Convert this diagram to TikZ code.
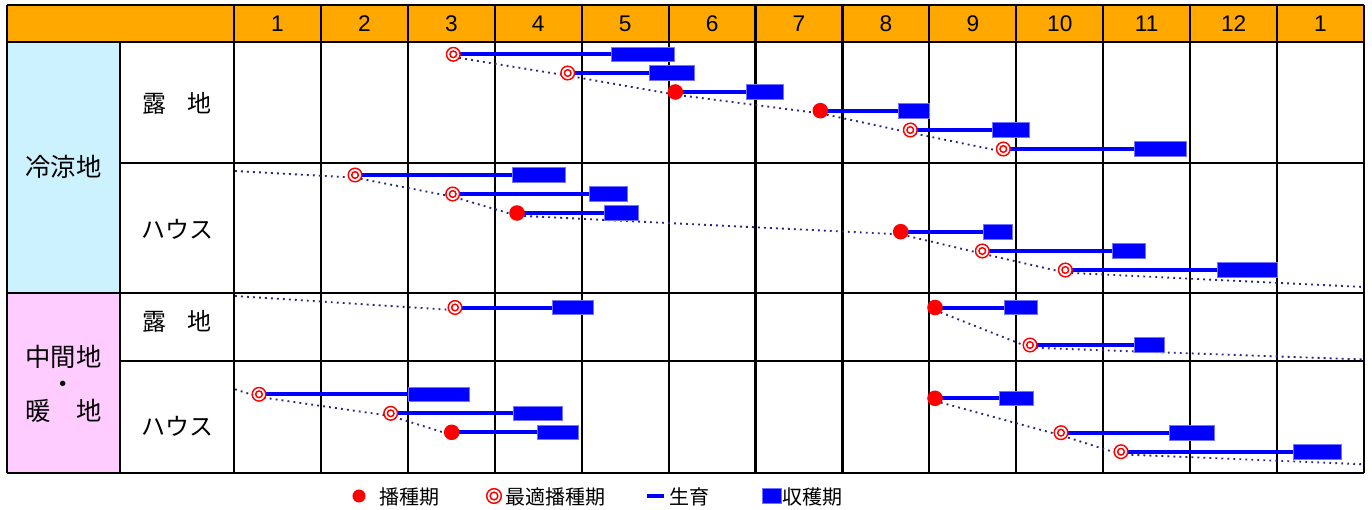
\documentclass[tikz,border=0pt]{standalone}
\usepackage{fontspec}
\setmainfont{Liberation Sans}
\newfontfamily\jp{Noto Sans CJK JP}
\definecolor{hdr}{RGB}{255,168,0}
\definecolor{cold}{RGB}{204,242,255}
\definecolor{warm}{RGB}{255,204,255}
\definecolor{navyc}{RGB}{40,40,130}
\pgfdeclarelayer{gridl}
\pgfdeclarelayer{dotl}
\pgfdeclarelayer{growl}
\pgfsetlayers{gridl,dotl,growl,main}
\newcommand\entry[6]{%
  \node[#1] (#2) at (#3,#4) {};
  \node[harvest, minimum width={(#6-#5)*0.75pt}] (#2h) at ({(#5+#6)/2},#4) {};
  \begin{pgfonlayer}{growl}\draw[growline] (#2.center) -- (#2h.west);\end{pgfonlayer}}
\begin{document}
\begin{tikzpicture}[x=0.75pt,y=-0.75pt,
  sow/.style={circle, fill=red, inner sep=0pt, minimum size=11.7pt},
  opt/.style={circle, draw=red, fill=white, line width=1.1pt, inner sep=0pt, minimum size=10.2pt,
    path picture={\draw[red,line width=1.1pt] (path picture bounding box.center) circle (2.5pt);}},
  harvest/.style={rectangle, fill=blue, draw=blue!55!white, line width=0.6pt, inner sep=0pt, minimum height=11pt},
  growline/.style={blue, line width=3pt},
  trend/.style={draw=navyc, line width=1.4pt, dash pattern=on 1.4pt off 3.1pt},
  gridline/.style={black, line width=1.6pt},
  lab/.style={font=\jp\fontsize{18}{22}\selectfont, inner sep=0pt},
  biglab/.style={font=\jp\fontsize{19}{20.5}\selectfont, inner sep=0pt, align=center},
  leglab/.style={font=\jp\fontsize{15}{18}\selectfont, inner sep=0pt, anchor=west},
  month/.style={font=\fontsize{17}{20}\selectfont, inner sep=0pt}]
\useasboundingbox (0,0) rectangle (1372,510);
% ---------- grid ----------
\begin{pgfonlayer}{gridl}
  \fill[white] (0,0) rectangle (1372,510);
  \fill[hdr] (7,5) rectangle (1364,42);
  \fill[cold] (7,42) rectangle (120,293);
  \fill[warm] (7,293) rectangle (120,473);
  \draw[gridline] (7,5) -- (1364,5);
  \draw[gridline] (7,42) -- (1364,42);
  \draw[gridline] (120,163) -- (1364,163);
  \draw[gridline] (7,293) -- (1364,293);
  \draw[gridline] (120,361) -- (1364,361);
  \draw[gridline] (7,473) -- (1364,473);
  \draw[gridline] (7,5) -- (7,473);
  \draw[gridline] (120,42) -- (120,473);
  \foreach \k in {0,...,13} {\draw[gridline] ({234+86.923*\k},5) -- ({234+86.923*\k},473);}
\end{pgfonlayer}
% ---------- header ----------
\foreach \k/\t in {1/1,2/2,3/3,4/4,5/5,6/6,7/7,8/8,9/9,10/10,11/11,12/12,13/1}
  {\node[month] (mon\k) at ({234+86.923*(\k-0.5)},24) {\t};}
% ---------- row labels ----------
\node[biglab] (cool) at (63.5,167) {冷涼地};
\node[biglab] (mid) at (63.5,384) {中間地\\・\\暖　地};
\node[lab] (r1) at (177,103) {露\hspace{0.85em}地};
\node[lab] (r2) at (177,229) {ハウス};
\node[lab] (r3) at (177,321) {露\hspace{0.85em}地};
\node[lab] (r4) at (177,426) {ハウス};
% ---------- row 1 ----------
\entry{opt}{a1}{453.3}{54.3}{611}{674}
\entry{opt}{a2}{567.7}{73}{649}{694}
\entry{sow}{a3}{675.3}{92}{746}{783}
\entry{sow}{a4}{820.3}{110.7}{898}{929}
\entry{opt}{a5}{910.3}{130}{992}{1029}
\entry{opt}{a6}{1003.3}{149}{1134}{1186}
% ---------- row 2 ----------
\entry{opt}{b1}{355}{175}{512}{565}
\entry{opt}{b2}{452.7}{194}{589}{627}
\entry{sow}{b3}{517}{213}{604}{638}
\entry{sow}{b4}{900.7}{231.7}{983}{1012}
\entry{opt}{b5}{982.3}{251}{1112}{1145}
\entry{opt}{b6}{1065.3}{270}{1217}{1277}
% ---------- row 3 ----------
\entry{opt}{c1}{455}{307.5}{552}{593}
\entry{sow}{c2}{935}{307.5}{1004}{1037}
\entry{opt}{c3}{1030}{345}{1134}{1164}
% ---------- row 4 ----------
\entry{opt}{d1}{259}{394.3}{408}{469}
\entry{opt}{d2}{390.7}{413.3}{513}{562}
\entry{sow}{d3}{451.7}{432.3}{537}{578}
\entry{sow}{d4}{935}{398.3}{999}{1033}
\entry{opt}{d5}{1061}{432.7}{1169}{1214}
\entry{opt}{d6}{1121}{451.7}{1293}{1341}
% ---------- free ends of trend lines ----------
\coordinate (b0) at (235,171);
\coordinate (b7) at (1364,287);
\coordinate (c0) at (235,296);
\coordinate (c4) at (1364,359.5);
\coordinate (d0) at (235,389.3);
\coordinate (d7) at (1364,464.3);
\begin{pgfonlayer}{dotl}
  \draw[trend] ([yshift=-2pt]a1.center) -- ([yshift=-2pt]a2.center) -- ([yshift=-2pt]a3.center)
     -- ([yshift=-2pt]a4.center) -- ([yshift=-2pt]a5.center) -- ([yshift=-2pt]a6.center);
  \draw[trend] (b0) -- ([yshift=-2pt]b1.center) -- ([yshift=-2pt]b2.center) -- ([yshift=-2pt]b3.center)
     -- ([yshift=-2pt]b4.center) -- ([yshift=-2pt]b5.center) -- ([yshift=-2pt]b6.center) -- (b7);
  \draw[trend] (c0) -- ([yshift=-2pt]c1.center);
  \draw[trend] ([yshift=-2pt]c2.center) -- ([yshift=-2pt]c3.center) -- (c4);
  \draw[trend] (d0) -- ([yshift=-2pt]d1.center) -- ([yshift=-2pt]d2.center) -- ([yshift=-2pt]d3.center);
  \draw[trend] ([yshift=-2pt]d4.center) -- ([yshift=-2pt]d5.center) -- ([yshift=-2pt]d6.center) -- (d7);
\end{pgfonlayer}
% ---------- legend ----------
\node[sow, minimum size=9.8pt] (lg1) at (359,496) {};
\node[leglab] (lt1) at (379,497) {播種期};
\node[opt, minimum size=11pt, path picture={\draw[red,line width=1.1pt] (path picture bounding box.center) circle (2.9pt);}] (lg2) at (494,496) {};
\node[leglab] (lt2) at (505,497) {最適播種期};
\coordinate (lg3a) at (647,495.5);
\coordinate (lg3b) at (664,495.5);
\draw[growline] (lg3a) -- (lg3b);
\node[leglab] (lt3) at (669,497) {生育};
\node[harvest, minimum width=14.25pt, minimum height=11.25pt] (lg4) at (772,495.5) {};
\node[leglab] (lt4) at (782,497) {収穫期};
\end{tikzpicture}
\end{document}
